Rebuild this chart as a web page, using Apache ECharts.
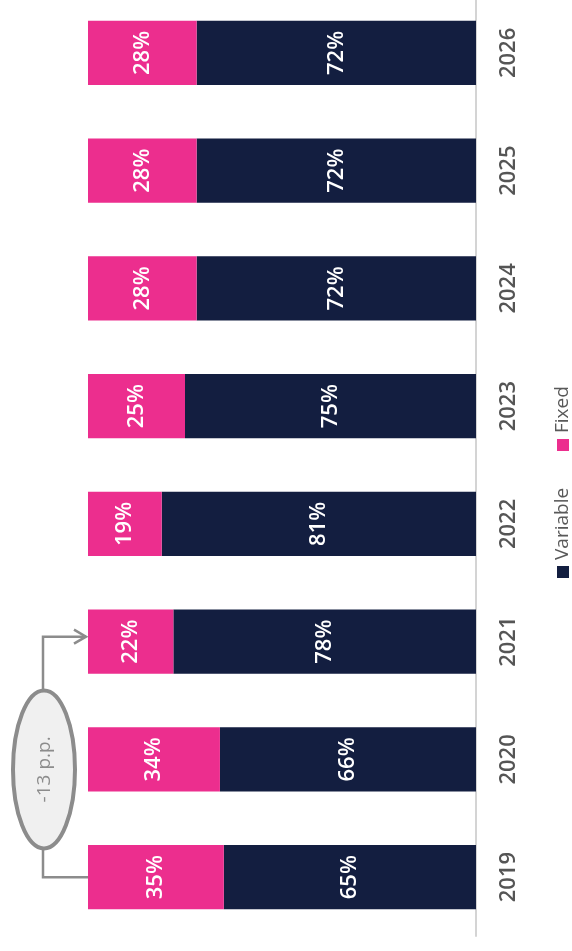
<!DOCTYPE html>
<html>
<head>
<meta charset="utf-8">
<script src="https://cdn.jsdelivr.net/npm/echarts@6/dist/echarts.min.js"></script>
<style>
  html, body { margin: 0; padding: 0; background: #fff; }
  #chart { width: 572px; height: 951px; }
</style>
</head>
<body>
<div id="chart"></div>
<script>
// data
const years = ['2019', '2020', '2021', '2022', '2023', '2024', '2025', '2026']
const fixedShare = [35, 34, 22, 19, 25, 28, 28, 28]
const variableShare = [65, 66, 78, 81, 75, 72, 72, 72]
const seriesNames = ['Variable', 'Fixed']
const seriesColors = ['#131e40', '#ec2e8e']
const changeNote = '-13 p.p.'

const FONT = "'Open Sans', 'Noto Sans', sans-serif"
const GREY = '#8c8c8c'

const chart = echarts.init(document.getElementById('chart'))

const barLabel = {
  show: true,
  position: 'inside',
  rotate: 90,
  color: '#fff',
  fontFamily: FONT,
  fontWeight: 600,
  fontSize: 22,
  formatter: p => p.value + '%'
}

chart.setOption({
  animation: false,
  grid: { left: 88, right: 96, top: -6, bottom: 15, outerBoundsMode: 'none' },
  xAxis: {
    type: 'value', min: 0, max: 100, inverse: true, show: false
  },
  yAxis: {
    type: 'category',
    data: years,
    position: 'right',
    axisLine: { show: true, lineStyle: { color: '#d4d4d4', width: 2 } },
    axisTick: { show: false },
    axisLabel: {
      rotate: 90, margin: 22,
      color: '#555', fontFamily: FONT, fontWeight: 600, fontSize: 22
    }
  },
  series: [
    {
      name: seriesNames[0], type: 'bar', stack: 'share', data: variableShare,
      barCategoryGap: '45.5%', itemStyle: { color: seriesColors[0] }, label: barLabel
    },
    {
      name: seriesNames[1], type: 'bar', stack: 'share', data: fixedShare,
      barCategoryGap: '45.5%', itemStyle: { color: seriesColors[1] }, label: barLabel
    }
  ]
})

// annotation + legend, placed from the axis scales
const px = (v, cat) => chart.convertToPixel({ gridIndex: 0 }, [v, cat])
const [barLeft, y2019] = px(100, years[0])
const y2020 = px(100, years[1])[1]
const y2021 = px(100, years[2])[1]
const bx = 43
const arrowY = y2021 - 5
const ellY = y2020 + 10

const legendText = (x, y, text) => ({
  type: 'text', x, y, rotation: Math.PI / 2,
  style: { text, fill: '#595959', font: `19px ${FONT}`, align: 'left', verticalAlign: 'middle' }
})

chart.setOption({
  graphic: [
    {
      type: 'polyline',
      shape: { points: [[barLeft, y2019], [bx, y2019], [bx, arrowY], [barLeft - 2, arrowY]] },
      style: { stroke: GREY, lineWidth: 2.5, fill: null }
    },
    {
      type: 'polyline',
      shape: { points: [[barLeft - 14, arrowY - 7], [barLeft - 2, arrowY], [barLeft - 14, arrowY + 7]] },
      style: { stroke: GREY, lineWidth: 2.5, fill: null }
    },
    {
      type: 'ellipse',
      shape: { cx: bx + 1, cy: ellY, rx: 31, ry: 79 },
      style: { fill: '#f0f0f0', stroke: GREY, lineWidth: 4 }
    },
    {
      type: 'text', x: bx + 2, y: ellY, rotation: Math.PI / 2,
      style: { text: changeNote, fill: GREY, font: `19px ${FONT}`, align: 'center', verticalAlign: 'middle' }
    },
    // legend (rotated like the rest of the chart)
    { type: 'rect', shape: { x: 557, y: 566, width: 12, height: 12 }, style: { fill: seriesColors[0] } },
    legendText(563, 560, seriesNames[0]),
    { type: 'rect', shape: { x: 557, y: 439, width: 12, height: 12 }, style: { fill: seriesColors[1] } },
    legendText(563, 433, seriesNames[1])
  ]
})
</script>
</body>
</html>
